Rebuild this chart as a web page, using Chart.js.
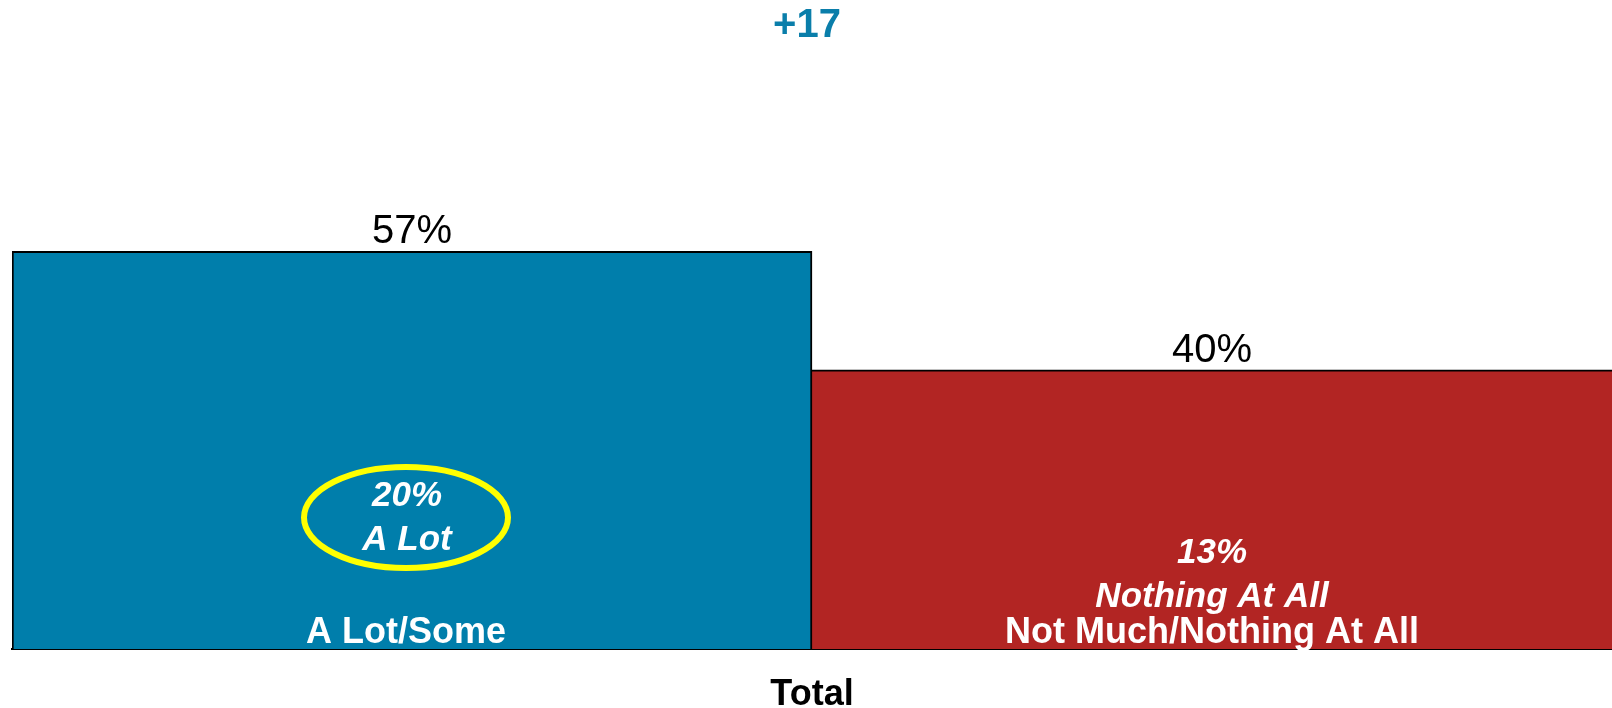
<!DOCTYPE html>
<html>
<head>
<meta charset="utf-8">
<script src="https://cdn.jsdelivr.net/npm/chart.js@4.4.1/dist/chart.umd.min.js"></script>
<style>
  html, body { margin: 0; padding: 0; background: #ffffff; }
  #wrap { width: 1612px; height: 708px; position: relative; }
</style>
</head>
<body>
<div id="wrap"><canvas id="c" width="1612" height="708"></canvas></div>
<script>
// ---- data ----
const categories = ['Total'];
const seriesNames = ['A Lot/Some', 'Not Much/Nothing At All'];
const seriesValues = [57, 40];
const subValues = [20, 13];
const subLabels = ['A Lot', 'Nothing At All'];
const highlighted = [true, false];
const netLabel = '+17';

const colors = ['#007EAB', '#B22523'];
const FONT = '"Liberation Sans", Arial, Helvetica, sans-serif';

const labelPlugin = {
  id: 'labels',
  afterDraw(chart) {
    const ctx = chart.ctx;
    const area = chart.chartArea;
    ctx.save();
    ctx.textAlign = 'center';
    ctx.textBaseline = 'alphabetic';
    chart.data.datasets.forEach((ds, i) => {
      const bar = chart.getDatasetMeta(i).data[0];
      const dx = i === 0 ? -6 : 0;
      const cx = bar.x + dx;
      // value on top
      ctx.fillStyle = '#000000';
      ctx.font = '40px ' + FONT;
      ctx.fillText(ds.data[0] + '%', bar.x, bar.y - 8);
      // series name at bottom
      ctx.fillStyle = '#ffffff';
      ctx.font = 'bold 36px ' + FONT;
      ctx.fillText(seriesNames[i], cx, area.bottom - 6);
      // sub value
      ctx.font = 'italic bold 35px ' + FONT;
      if (highlighted[i]) {
        ctx.fillText(subValues[i] + '%', cx + 1, area.bottom - 143);
        ctx.fillText(subLabels[i], cx + 1, area.bottom - 99);
        ctx.beginPath();
        ctx.ellipse(cx, area.bottom - 131.5, 102, 50.5, 0, 0, Math.PI * 2);
        ctx.strokeStyle = '#FFFF00';
        ctx.lineWidth = 6;
        ctx.stroke();
      } else {
        ctx.fillText(subValues[i] + '%', cx, area.bottom - 86);
        ctx.fillText(subLabels[i], cx, area.bottom - 42);
      }
    });
    // category label
    const xs = chart.scales.x;
    ctx.fillStyle = '#000000';
    ctx.font = 'bold 36px ' + FONT;
    ctx.fillText(categories[0], xs.getPixelForValue(0), 705);
    // net difference
    ctx.fillStyle = '#0A7EAA';
    ctx.font = 'bold 40px ' + FONT;
    ctx.fillText(netLabel, xs.getPixelForValue(0) - 5, 37);
    ctx.restore();
  }
};

new Chart(document.getElementById('c'), {
  type: 'bar',
  data: {
    labels: categories,
    datasets: seriesNames.map((n, i) => ({
      label: n,
      data: [seriesValues[i]],
      backgroundColor: colors[i],
      borderColor: '#000000',
      borderWidth: i === 0 ? { top: 2, left: 2, right: 2, bottom: 0 } : { top: 2, left: 0, right: 0, bottom: 0 },
      borderSkipped: false,
      categoryPercentage: 1.0,
      barPercentage: 1.0
    }))
  },
  options: {
    responsive: false,
    animation: false,
    devicePixelRatio: 1,
    layout: { padding: { left: 12, right: 0, top: 21, bottom: 0 } },
    plugins: { legend: { display: false }, tooltip: { enabled: false }, title: { display: false } },
    scales: {
      x: {
        display: true,
        grid: { display: false, drawTicks: false },
        border: { display: true, color: '#000000', width: 2 },
        ticks: { display: false },
        afterFit: s => { s.height = 59; }
      },
      y: {
        display: false,
        min: 0,
        max: 90
      }
    }
  },
  plugins: [labelPlugin]
});
</script>
</body>
</html>
